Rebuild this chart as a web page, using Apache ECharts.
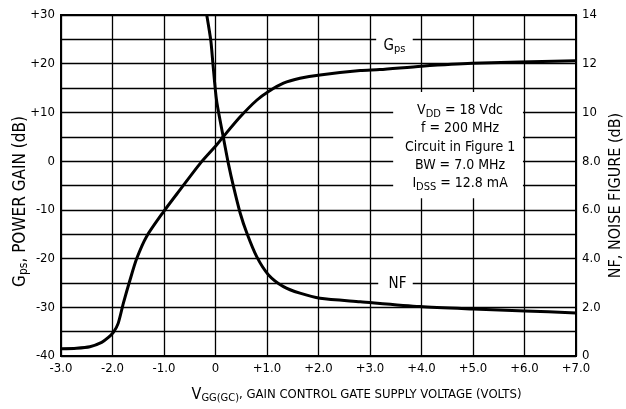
<!DOCTYPE html>
<html>
<head>
<meta charset="utf-8">
<script src="https://cdn.jsdelivr.net/npm/echarts@6/dist/echarts.min.js"></script>
<style>
  html, body { margin: 0; padding: 0; background: #fff; }
  #chart { width: 626px; height: 409px; }
</style>
</head>
<body>
<div id="chart"></div>
<script>
const FONT = "'DejaVu Sans Condensed', 'Liberation Sans Narrow', sans-serif";

// Gps, power gain (dB) against VGG(GC) (volts)
const gpsVolts = [-3.0, -2.7, -2.44, -2.21, -2.08, -1.98, -1.89, -1.79, -1.66, -1.53, -1.34, -1.01, -0.69, -0.30, 0.02, 0.15, 0.48, 0.80, 1.03, 1.32, 1.64, 2.03, 2.81, 3.19, 4.0, 4.98, 7.0];
const gpsDb = [-38.5, -38.4, -38.1, -37.2, -36.2, -35.1, -33.3, -29.2, -24.4, -20.0, -15.5, -10.4, -5.9, -0.5, 3.3, 5.0, 9.1, 12.5, 14.3, 16.0, 17.0, 17.7, 18.6, 18.8, 19.5, 20.1, 20.6];

// NF, noise figure (dB) against VGG(GC) (volts)
const nfVolts = [-0.17, -0.09, -0.05, 0.02, 0.15, 0.25, 0.35, 0.48, 0.61, 0.80, 1.03, 1.32, 1.64, 2.03, 2.81, 3.97, 5.0, 6.01, 7.0];
const nfDb = [14.0, 12.93, 12.0, 10.5, 9.0, 7.9, 6.95, 5.86, 5.04, 4.08, 3.33, 2.85, 2.58, 2.37, 2.23, 2.03, 1.93, 1.85, 1.77];

const conditions = [
  "V{s|DD} = 18 Vdc",
  "f = 200 MHz",
  "Circuit in Figure 1",
  "BW = 7.0 MHz",
  "I{s|DSS} = 12.8 mA",
];

const zip = (xs, ys) => xs.map((x, i) => [x, ys[i]]);

const sub = (size) => ({
  fontSize: size, fontFamily: FONT, color: "#000", verticalAlign: "bottom", lineHeight: size + 1,
});

const chart = echarts.init(document.getElementById("chart"));

chart.setOption({
  animation: false,
  backgroundColor: "#fff",
  textStyle: { fontFamily: FONT, color: "#000" },
  grid: {
    left: 61, right: 50, top: 15, bottom: 53,
    outerBoundsMode: "none",
    containLabel: false,
    show: true, borderColor: "#000", borderWidth: 2,
  },
  xAxis: {
    type: "value",
    min: -3, max: 7, interval: 1,
    axisLine: { show: false },
    axisTick: { show: false },
    splitLine: { lineStyle: { color: "#000", width: 1.3 } },
    axisLabel: {
      color: "#000", fontSize: 13, fontFamily: FONT, margin: 6,
      formatter: (v) => (v === 0 ? "0" : (v > 0 ? "+" : "") + v.toFixed(1)),
    },
    name: "{v|V}{s|GG(GC)}{t|, GAIN CONTROL GATE SUPPLY VOLTAGE (VOLTS)}",
    nameLocation: "middle",
    nameGap: 30,
    nameTextStyle: {
      padding: [0, 0, 0, 76],
      rich: {
        v: { fontSize: 16, fontFamily: FONT, color: "#000", lineHeight: 18 },
        s: sub(11),
        t: { fontSize: 13, fontFamily: FONT, color: "#000", lineHeight: 18 },
      },
    },
  },
  yAxis: [
    {
      type: "value",
      min: -40, max: 30, interval: 5,
      axisLine: { show: false },
      axisTick: { show: false },
      splitLine: { lineStyle: { color: "#000", width: 1.3 } },
      axisLabel: {
        color: "#000", fontSize: 13, fontFamily: FONT, margin: 6,
        formatter: (v) => (v % 10 !== 0 ? "" : v > 0 ? "+" + v : String(v)),
      },
      name: "{t|G}{s|ps}{t|, POWER GAIN (dB)}",
      nameLocation: "middle",
      nameRotate: 90,
      nameGap: 31,
      nameMoveOverlap: false,
      nameTextStyle: {
        padding: [0, 32, 0, 0],
        rich: {
          t: { fontSize: 17, fontFamily: FONT, color: "#000", lineHeight: 19 },
          s: sub(12),
        },
      },
    },
    {
      type: "value",
      position: "right",
      min: 0, max: 14, interval: 1,
      axisLine: { show: false },
      axisTick: { show: false },
      splitLine: { show: false },
      axisLabel: {
        color: "#000", fontSize: 13, fontFamily: FONT, margin: 6,
        formatter: (v) => (v % 2 !== 0 ? "" : v === 0 || v >= 10 ? String(v) : v.toFixed(1)),
      },
      name: "NF, NOISE FIGURE (dB)",
      nameLocation: "middle",
      nameRotate: 90,
      nameGap: 32,
      nameMoveOverlap: false,
      nameTextStyle: { fontSize: 16, fontFamily: FONT, color: "#000", padding: [0, 20, 0, 0] },
    },
  ],
  series: [
    {
      name: "Gps",
      type: "line",
      yAxisIndex: 0,
      data: zip(gpsVolts, gpsDb),
      smooth: 0.25,
      showSymbol: false,
      lineStyle: { color: "#000", width: 3 },
      markArea: {
        silent: true,
        itemStyle: { color: "#fff", opacity: 1 },
        label: {
          show: true, position: "inside", color: "#000",
          fontSize: 14, fontFamily: FONT,
        },
        data: [
          [
            {
              xAxis: 3.45, yAxis: 14.2,
              label: {
                formatter: conditions.join("\n"),
                lineHeight: 18.3,
                align: "center",
                offset: [2, 2],
                rich: { s: sub(11) },
              },
            },
            { xAxis: 5.97, yAxis: -7.6 },
          ],
          [
            {
              xAxis: 3.12, yAxis: 26.5,
              label: {
                formatter: "{g|G}{s|ps}",
                offset: [0, 3],
                rich: {
                  g: { fontSize: 15, fontFamily: FONT, color: "#000", lineHeight: 17 },
                  s: sub(11),
                },
              },
            },
            { xAxis: 3.83, yAxis: 22.0 },
          ],
          [
            { xAxis: 3.16, yAxis: -23.6, label: { formatter: "NF", fontSize: 15, offset: [2, 1] } },
            { xAxis: 3.83, yAxis: -26.4 },
          ],
        ],
      },
    },
    {
      name: "NF",
      type: "line",
      yAxisIndex: 1,
      data: zip(nfVolts, nfDb),
      smooth: 0.25,
      showSymbol: false,
      lineStyle: { color: "#000", width: 3 },
    },
  ],
});

window.addEventListener("resize", () => chart.resize());
</script>
</body>
</html>
